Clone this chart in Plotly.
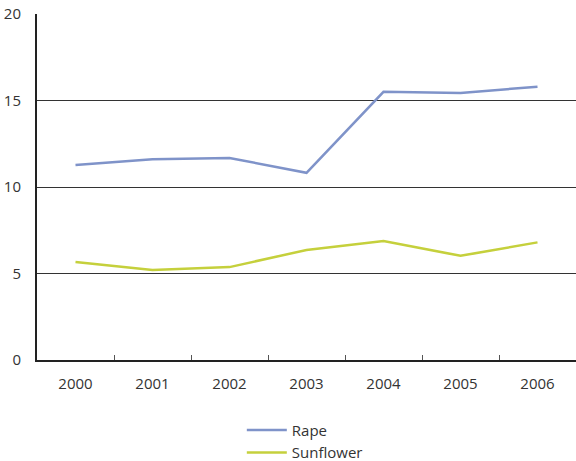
import plotly.graph_objects as go

years = ["2000", "2001", "2002", "2003", "2004", "2005", "2006"]
rape = [11.27, 11.6, 11.68, 10.82, 15.5, 15.43, 15.8]
sunflower = [5.66, 5.2, 5.37, 6.36, 6.88, 6.02, 6.8]

font_family = "Open Sans, Noto Sans, sans-serif"

fig = go.Figure()
fig.add_trace(go.Scatter(x=years, y=rape, mode="lines", name="Rape",
                         line=dict(color="#7f93c9", width=2.5)))
fig.add_trace(go.Scatter(x=years, y=sunflower, mode="lines", name="Sunflower",
                         line=dict(color="#c5d03c", width=2.5)))

fig.update_layout(
    width=576, height=461,
    margin=dict(l=37, r=0, t=14, b=101, autoexpand=False),
    paper_bgcolor="white", plot_bgcolor="white",
    font=dict(family=font_family, size=15, color="#333333"),
    showlegend=True,
    legend=dict(orientation="v", x=0.38, xanchor="left", y=-0.155, yanchor="top",
                font=dict(size=15, color="#333333"), tracegroupgap=0,
                itemwidth=40, bgcolor="rgba(0,0,0,0)"),
    xaxis=dict(type="category", range=[-0.5, 6.5], showgrid=False,
               showline=True, linecolor="#222222", linewidth=2,
               ticks="inside", tickson="boundaries", ticklen=5,
               tickcolor="#555555", tickwidth=1, ticklabelstandoff=9,
               automargin=False),
    yaxis=dict(range=[0, 20], tickvals=[0, 5, 10, 15, 20],
               showgrid=True, gridcolor="#333333", gridwidth=1,
               showline=True, linecolor="#222222", linewidth=2,
               zeroline=False, ticks="", ticklabelstandoff=11,
               automargin=False),
)

fig.write_html("out.html")
